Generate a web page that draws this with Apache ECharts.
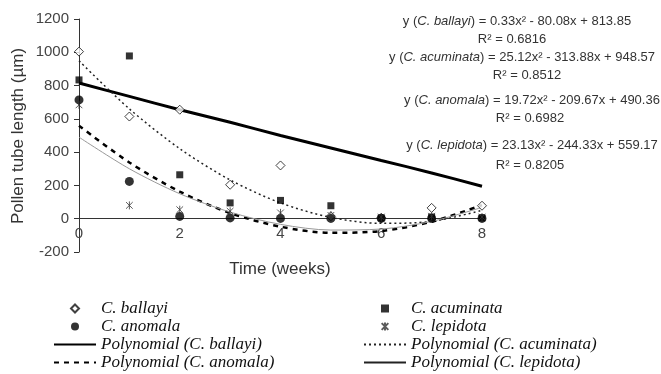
<!DOCTYPE html>
<html>
<head>
<meta charset="utf-8">
<script src="https://cdn.jsdelivr.net/npm/echarts@6/dist/echarts.min.js"></script>
<style>
html,body{margin:0;padding:0;background:#fff;}
#chart{width:661px;height:374px;}
</style>
</head>
<body>
<div id="chart"></div>
<script>
// ---- data ----
var weeks = [0, 1, 2, 3, 4, 5, 6, 7, 8];
var ballayi   = [1004, 614, 655, 204, 320, 15, 5, 65, 78];
var acuminata = [834, 978, 264, 95, 110, 78, 5, 10, 5];
var anomala   = [714, 224, 14, 5, 2, 2, 2, 3, 2];
var lepidota  = [684, 80, 54, 45, 35, 20, 10, 15, 10];
// trend lines as drawn in the picture (values read at each week)
var polyBallayi   = [815, 735, 655, 580, 500, 425, 350, 275, 195];
var polyAcuminata = [949, 660, 421, 233, 95, 8, -28, -16, 50];
var polyAnomala   = [559, 338, 163, 34, -48, -85, -74, -18, 82];
var polyLepidota  = [490, 300, 150, 40, -34, -68, -62, -16, 68];
var yTicks = {min: -200, max: 1200, interval: 200};
var xTicks = {min: 0, max: 8, interval: 2};
var equations = [
  {sp: 'C. ballayi', eq: ' = 0.33x² - 80.08x + 813.85', r2: 'R² = 0.6816'},
  {sp: 'C. acuminata', eq: ' = 25.12x² - 313.88x + 948.57', r2: 'R² = 0.8512'},
  {sp: 'C. anomala', eq: ' = 19.72x² - 209.67x + 490.36', r2: 'R² = 0.6982'},
  {sp: 'C. lepidota', eq: ' = 23.13x² - 244.33x + 559.17', r2: 'R² = 0.8205'}
];

function pairs(arr) { return weeks.map(function (w, i) { return [w, arr[i]]; }); }

var SANS = '"Liberation Sans", Arial, sans-serif';
var SERIF = '"Liberation Serif", "Times New Roman", serif';

// equation text layout
var eqPos = [
  {x: 517, y: 21, rx: 512, ry: 39},
  {x: 522, y: 57, rx: 527, ry: 75},
  {x: 532, y: 100, rx: 530, ry: 118},
  {x: 532, y: 145, rx: 530, ry: 165}
];
var graphics = [];
equations.forEach(function (e, i) {
  graphics.push({
    type: 'text', x: eqPos[i].x, y: eqPos[i].y, z: 10,
    style: {
      text: '{n|y (}{i|' + e.sp + '}{n|)' + e.eq + '}',
      align: 'center', verticalAlign: 'middle',
      rich: {
        n: {fontFamily: SANS, fontSize: 13, fill: '#333'},
        i: {fontFamily: SANS, fontSize: 13, fontStyle: 'italic', fill: '#333'}
      }
    }
  });
  graphics.push({
    type: 'text', x: eqPos[i].rx, y: eqPos[i].ry, z: 10,
    style: {text: e.r2, align: 'center', verticalAlign: 'middle',
      font: '13px ' + SANS, fill: '#333'}
  });
});
graphics.push({
  type: 'text', x: 280, y: 269,
  style: {text: 'Time (weeks)', align: 'center', verticalAlign: 'middle',
    font: '17px ' + SANS, fill: '#333'}
});
graphics.push({
  type: 'text', x: 18, y: 136, rotation: Math.PI / 2,
  style: {text: 'Pollen tube length (µm)', align: 'center', verticalAlign: 'middle',
    font: '17px ' + SANS, fill: '#333'}
});

var DIAMOND = 'path://M5,0L10,5L5,10L0,5Z';
var SQUARE = 'path://M0,0L10,0L10,10L0,10Z';
var ASTER = 'path://M0,0L10,10M10,0L0,10M5,-1L5,11';

var chart = echarts.init(document.getElementById('chart'), null, {renderer: 'canvas'});
var legendText = {fontFamily: SERIF, fontStyle: 'italic', fontSize: 17, color: '#111', lineHeight: 17};
function legendCfg(left, names) {
  return {
    orient: 'vertical', left: left, top: 300, padding: 0,
    itemWidth: 42, itemHeight: 8, itemGap: 1, symbolKeepAspect: true,
    textStyle: legendText, selectedMode: false,
    data: names.map(function (n) {
      if (n.indexOf('Polynomial') === 0) {
        var d = {name: n, itemStyle: {opacity: 0}};
        if (n.indexOf('lepidota') > 0) d.lineStyle = {color: '#222'};
        return d;
      }
      return {name: n};
    })
  };
}
chart.setOption({
  animation: false,
  backgroundColor: '#fff',
  grid: {left: 79, right: 179, top: 19, bottom: 122, containLabel: false},
  xAxis: {
    type: 'value', min: xTicks.min, max: xTicks.max, interval: xTicks.interval,
    splitLine: {show: false},
    axisLine: {onZero: true, lineStyle: {color: '#333', width: 1}},
    axisTick: {show: false},
    axisLabel: {fontFamily: SANS, fontSize: 15, color: '#444', margin: -26,
      formatter: function (v) { return String(v); }}
  },
  yAxis: {
    type: 'value', min: yTicks.min, max: yTicks.max, interval: yTicks.interval,
    splitLine: {show: false},
    axisLine: {show: true, lineStyle: {color: '#333', width: 1}},
    axisTick: {show: true, length: 5, lineStyle: {color: '#333'}},
    axisLabel: {fontFamily: SANS, fontSize: 15, color: '#444', margin: 10,
      formatter: function (v) { return String(v); }}
  },
  legend: [
    legendCfg(53, ['C. ballayi', 'C. anomala', 'Polynomial (C. ballayi)', 'Polynomial (C. anomala)']),
    legendCfg(363, ['C. acuminata', 'C. lepidota', 'Polynomial (C. acuminata)', 'Polynomial (C. lepidota)'])
  ],
  graphic: graphics,
  series: [
    {name: 'Polynomial (C. ballayi)', type: 'line', data: pairs(polyBallayi), smooth: 0.3,
      symbol: 'none', color: '#000', lineStyle: {color: '#000', width: 3}, z: 3},
    {name: 'Polynomial (C. acuminata)', type: 'line', data: pairs(polyAcuminata), smooth: 0.3,
      symbol: 'none', color: '#222', lineStyle: {color: '#222', width: 1.5, type: [2, 3]}, z: 3},
    {name: 'Polynomial (C. anomala)', type: 'line', data: pairs(polyAnomala), smooth: 0.3,
      symbol: 'none', color: '#000', lineStyle: {color: '#000', width: 2.5, type: [5, 5]}, z: 3},
    {name: 'Polynomial (C. lepidota)', type: 'line', data: pairs(polyLepidota), smooth: 0.3,
      symbol: 'none', color: '#999', lineStyle: {color: '#999', width: 1}, z: 3},
    {name: 'C. ballayi', type: 'scatter', data: pairs(ballayi), symbol: DIAMOND, symbolSize: 9,
      symbolKeepAspect: true,
      itemStyle: {color: '#fff', borderColor: '#111', borderWidth: 1}, z: 5},
    {name: 'C. acuminata', type: 'scatter', data: pairs(acuminata), symbol: SQUARE, symbolSize: 7,
      symbolKeepAspect: true, itemStyle: {color: '#000'}, z: 5},
    {name: 'C. anomala', type: 'scatter', data: pairs(anomala), symbol: 'circle', symbolSize: 9,
      itemStyle: {color: '#000'}, z: 5},
    {name: 'C. lepidota', type: 'scatter', data: pairs(lepidota), symbol: ASTER, symbolSize: 8,
      symbolKeepAspect: true,
      itemStyle: {color: 'rgba(0,0,0,0)', borderColor: '#333', borderWidth: 1}, z: 5}
  ]
});
</script>
</body>
</html>
